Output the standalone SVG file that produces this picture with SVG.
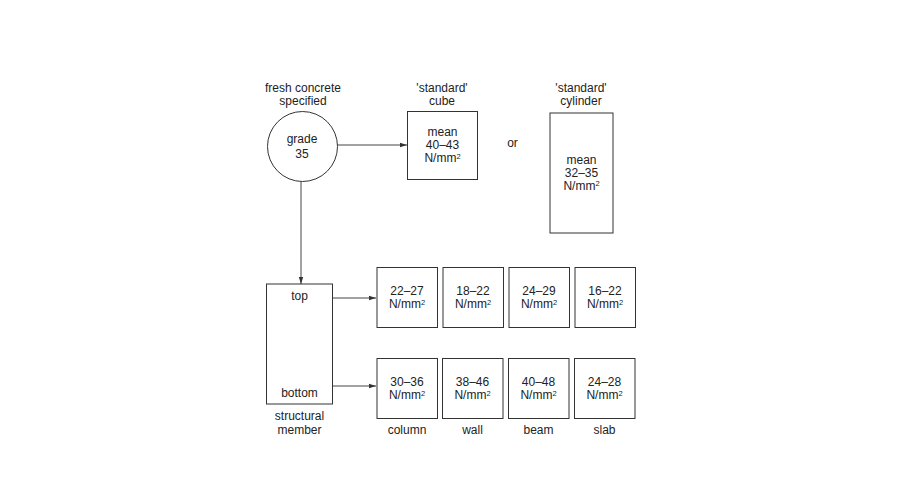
<svg xmlns="http://www.w3.org/2000/svg" width="900" height="500" viewBox="0 0 900 500">
<defs>
<marker id="ah" markerWidth="7" markerHeight="6" refX="7" refY="3" orient="auto" markerUnits="userSpaceOnUse">
<path d="M0,0.8 L7,3 L0,5.2 Z" fill="#333"/>
</marker>
<style>
text{font-family:"Liberation Sans",Arial,sans-serif;font-size:12px;fill:#222;text-anchor:middle}
.sup{font-size:7.5px}
.box{fill:#fff;stroke:#333;stroke-width:1}
.ln{fill:none;stroke:#444;stroke-width:1}
</style>
</defs>
<rect width="900" height="500" fill="#fff"/>
<g id="connectors">
<line class="ln" x1="337" y1="145" x2="407" y2="145" marker-end="url(#ah)"/>
<line class="ln" x1="301" y1="182" x2="301" y2="284" marker-end="url(#ah)"/>
<line class="ln" x1="332" y1="298" x2="376" y2="298" marker-end="url(#ah)"/>
<line class="ln" x1="332" y1="386" x2="376" y2="386" marker-end="url(#ah)"/>
</g>
<g id="grade">
<text x="303" y="92">fresh concrete</text>
<text x="303" y="104.5">specified</text>
<circle class="box" cx="302.5" cy="146.5" r="35"/>
<text x="302" y="143">grade</text>
<text x="302" y="157.5">35</text>
</g>
<g id="cube">
<text x="442" y="92">'standard'</text>
<text x="442" y="105">cube</text>
<rect class="box" x="407.5" y="111.5" width="70" height="68"/>
<text x="442.5" y="136">mean</text>
<text x="442.5" y="149">40–43</text>
<text x="442.5" y="162">N/mm<tspan class="sup" dy="-3.5">2</tspan></text>
</g>
<text x="512.5" y="147">or</text>
<g id="cylinder">
<text x="581" y="92">'standard'</text>
<text x="581" y="105">cylinder</text>
<rect class="box" x="550" y="113" width="63" height="120"/>
<text x="581.5" y="163.5">mean</text>
<text x="581.5" y="176.5">32–35</text>
<text x="581.5" y="189.5">N/mm<tspan class="sup" dy="-3.5">2</tspan></text>
</g>
<g id="member">
<rect class="box" x="266.5" y="284" width="66" height="120"/>
<text x="299.5" y="299.5">top</text>
<text x="299.5" y="397">bottom</text>
<text x="299.5" y="419.5">structural</text>
<text x="299.5" y="434">member</text>
</g>
<g id="top-column">
<rect class="box" x="377" y="267.5" width="60.5" height="60"/>
<text x="407" y="295">22–27</text>
<text x="407" y="308">N/mm<tspan class="sup" dy="-3.5">2</tspan></text>
</g>
<g id="top-wall">
<rect class="box" x="443" y="267.5" width="60.5" height="60"/>
<text x="473" y="295">18–22</text>
<text x="473" y="308">N/mm<tspan class="sup" dy="-3.5">2</tspan></text>
</g>
<g id="top-beam">
<rect class="box" x="509" y="267.5" width="60.5" height="60"/>
<text x="539" y="295">24–29</text>
<text x="539" y="308">N/mm<tspan class="sup" dy="-3.5">2</tspan></text>
</g>
<g id="top-slab">
<rect class="box" x="575" y="267.5" width="60.5" height="60"/>
<text x="605" y="295">16–22</text>
<text x="605" y="308">N/mm<tspan class="sup" dy="-3.5">2</tspan></text>
</g>
<g id="bottom-column">
<rect class="box" x="377" y="358.5" width="60.5" height="60"/>
<text x="407" y="386">30–36</text>
<text x="407" y="399">N/mm<tspan class="sup" dy="-3.5">2</tspan></text>
<text x="407" y="434">column</text>
</g>
<g id="bottom-wall">
<rect class="box" x="442.5" y="358.5" width="60.5" height="60"/>
<text x="472.5" y="386">38–46</text>
<text x="472.5" y="399">N/mm<tspan class="sup" dy="-3.5">2</tspan></text>
<text x="472.5" y="434">wall</text>
</g>
<g id="bottom-beam">
<rect class="box" x="508.5" y="358.5" width="60.5" height="60"/>
<text x="538.5" y="386">40–48</text>
<text x="538.5" y="399">N/mm<tspan class="sup" dy="-3.5">2</tspan></text>
<text x="538.5" y="434">beam</text>
</g>
<g id="bottom-slab">
<rect class="box" x="574.5" y="358.5" width="60.5" height="60"/>
<text x="604.5" y="386">24–28</text>
<text x="604.5" y="399">N/mm<tspan class="sup" dy="-3.5">2</tspan></text>
<text x="604.5" y="434">slab</text>
</g>
</svg>
